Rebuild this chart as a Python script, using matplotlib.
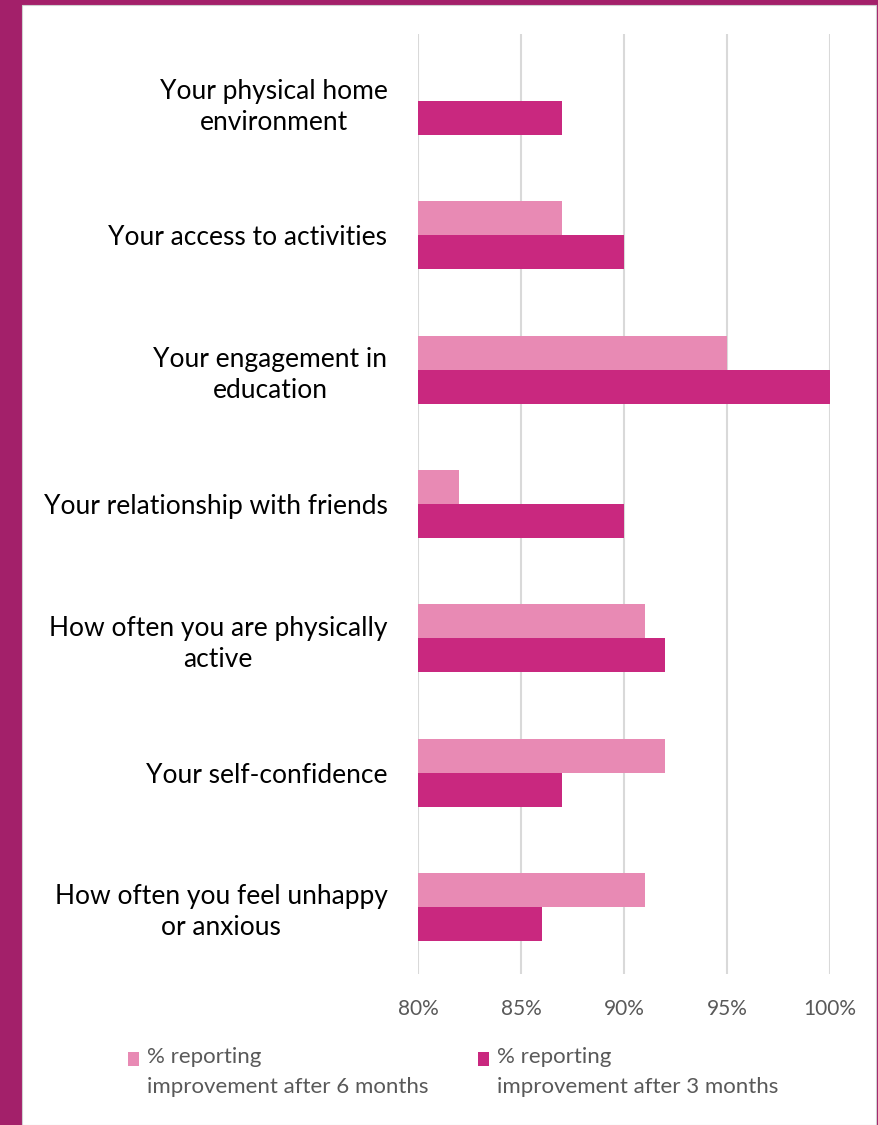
import numpy as np
import matplotlib.pyplot as plt
import matplotlib.transforms as mtransforms
from matplotlib.patches import Rectangle

categories = ["Your physical home\nenvironment",
              "Your access to activities",
              "Your engagement in\neducation",
              "Your relationship with friends",
              "How often you are physically\nactive",
              "Your self-confidence",
              "How often you feel unhappy\nor anxious"]
after_6 = [np.nan, 87, 95, 82, 91, 92, 91]
after_3 = [87, 90, 100, 90, 92, 87, 86]
ticks = [80, 85, 90, 95, 100]
series_names = ["% reporting\nimprovement after 6 months",
                "% reporting\nimprovement after 3 months"]

plt.rcParams['font.family'] = ['Lato', 'DejaVu Sans']

fig = plt.figure(figsize=(8.79, 11.25), dpi=100)
fig.patch.set_facecolor('#A3206A')
W, H = 879, 1125
fig.add_artist(Rectangle((22/W, 0), (876-22)/W, (H-5)/H, transform=fig.transFigure,
                         facecolor='white', edgecolor='#D0D0D0', lw=0.8, zorder=0))

ax = fig.add_axes([418/W, 1-974/H, (830-418)/W, (974-34)/H])
ax.set_facecolor('white')

y = np.arange(len(categories))
h = 0.253
b6 = ax.barh(y - h/2, after_6, height=h, color='#E88AB4', zorder=2)
b3 = ax.barh(y + h/2, after_3, height=h, color='#C9287F', zorder=2)

ax.set_xlim(80, 100)
ax.set_ylim(len(categories) - 0.5, -0.5)
ax.set_xticks(ticks)
ax.set_xticklabels([f"{t}%" for t in ticks])
ax.set_yticks(y)
ax.set_yticklabels(categories)
shift = mtransforms.ScaledTranslation(0, 0.04, fig.dpi_scale_trans)
for t in ax.get_yticklabels():
    t.set_multialignment('center')
    t.set_linespacing(1.3)
    t.set_transform(t.get_transform() + shift)
ax.tick_params(axis='y', length=0, pad=22, labelsize=19, labelcolor='black')
ax.tick_params(axis='x', length=0, pad=18, labelsize=15, labelcolor='#595959')
ax.grid(axis='x', color='#D9D9D9', lw=1.5, zorder=0)
ax.set_axisbelow(True)
for s in ax.spines.values():
    s.set_visible(False)

# legend, square next to the first line of each entry
for bars, name, x0 in zip([b6, b3], series_names, [128, 478]):
    fig.add_artist(Rectangle((x0/W, 1-1066/H), 11/W, 14/H, transform=fig.transFigure,
                             facecolor=bars.patches[1].get_facecolor(), lw=0))
    fig.text((x0+19)/W, 1-1047/H, name, ha='left', va='top', fontsize=16,
             color='#595959', linespacing=1.6)

fig.savefig('out.png', dpi=100, facecolor=fig.get_facecolor())
